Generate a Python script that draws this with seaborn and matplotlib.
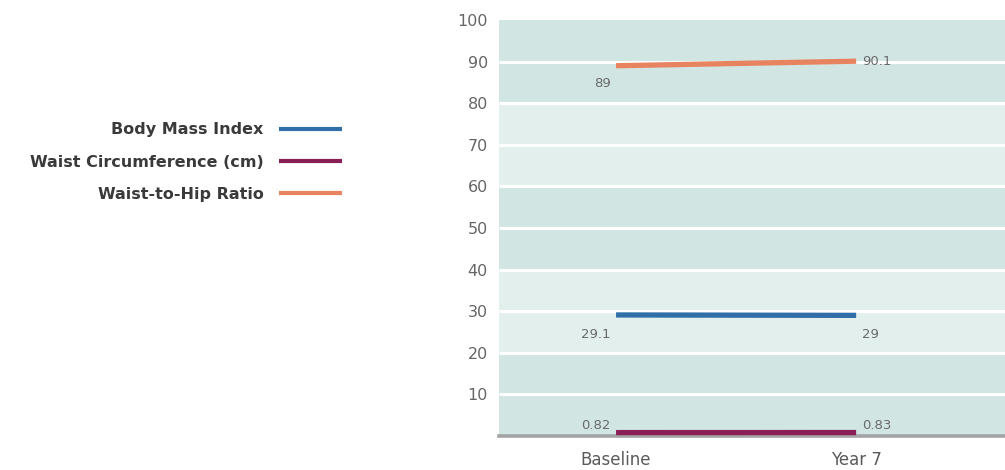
import matplotlib
matplotlib.use("Agg")
import matplotlib.pyplot as plt
import seaborn as sns
import pandas as pd
from matplotlib.ticker import FixedLocator

# --- data -------------------------------------------------------------
timepoints = ["Baseline", "Year 7"]
series_names = ["Body Mass Index", "Waist Circumference (cm)", "Waist-to-Hip Ratio"]
baseline_values = [29.1, 0.82, 89]
year7_values = [29, 0.83, 90.1]
y_ticks = [10, 20, 30, 40, 50, 60, 70, 80, 90, 100]

# --- styling ----------------------------------------------------------
colors = {
    "Body Mass Index": "#2f6ea6",
    "Waist Circumference (cm)": "#8a1f55",
    "Waist-to-Hip Ratio": "#e8835f",
}
# vertical placement of value labels (points) relative to each end point
label_dy = {
    "Body Mass Index": (-14, -14),
    "Waist Circumference (cm)": (5, 5),
    "Waist-to-Hip Ratio": (-13, 0),
}

rows = []
for name, b, y7 in zip(series_names, baseline_values, year7_values):
    rows.append({"series": name, "time": timepoints[0], "value": b})
    rows.append({"series": name, "time": timepoints[1], "value": y7})
df = pd.DataFrame(rows)

sns.set_theme(style="white")
plt.rcParams["font.family"] = ["DejaVu Sans"]

fig = plt.figure(figsize=(10.05, 4.70), dpi=100)
W, H = 1005, 470
ax = fig.add_axes([499 / W, 1 - 436 / H, 1 - 499 / W, (436 - 20) / H])

# alternating background bands and white grid lines
dark, light = "#d1e6e3", "#e2efec"
for lo in range(0, 100, 20):
    ax.axhspan(lo, lo + 20, color=dark if (lo // 20) % 2 == 0 else light, zorder=0, lw=0)
for t in y_ticks[:-1]:
    ax.axhline(t, color="white", lw=2.2, zorder=1)

sns.lineplot(
    data=df, x="time", y="value", hue="series", hue_order=series_names,
    palette=colors, sort=False, linewidth=3.8, ax=ax, legend=True,
    zorder=3, clip_on=False,
)
for line in ax.lines:
    line.set_solid_capstyle("butt")
    line.set_clip_on(False)

# value labels at each end of every line
for name, b, y7 in zip(series_names, baseline_values, year7_values):
    dl, dr = label_dy[name]
    ax.annotate(f"{b:g}", (0, b), xytext=(-4, dl), textcoords="offset points",
                ha="right", va="center", fontsize=9.5, color="#6a6a6a", zorder=4)
    ax.annotate(f"{y7:g}", (1, y7), xytext=(4.5, dr), textcoords="offset points",
                ha="left", va="center", fontsize=9.5, color="#6a6a6a", zorder=4)

ax.set_xlim(-0.4875, 1.62)
ax.set_ylim(0, 100)
ax.set_yticks(y_ticks)
ax.set_xticks([0, 1])
ax.set_xticklabels(timepoints)
ax.xaxis.set_minor_locator(FixedLocator([0.5]))
ax.tick_params(axis="x", which="major", length=0, pad=11, labelsize=12, labelcolor="#5a5a5a")
ax.tick_params(axis="x", which="minor", length=12, width=1, color="#8a8a8a", direction="out")
ax.tick_params(axis="y", length=0, pad=8, labelsize=11.5, labelcolor="#666666")
ax.set_xlabel("")
ax.set_ylabel("")

for side in ("top", "right", "left"):
    ax.spines[side].set_visible(False)
ax.spines["bottom"].set_color("#a3a3a3")
ax.spines["bottom"].set_linewidth(2.6)
ax.spines["bottom"].set_zorder(2)

# legend on the left of the figure, labels to the left of their swatches
handles, labels = ax.get_legend_handles_labels()
ax.get_legend().remove()
for h in handles:
    h.set_linewidth(3)
leg = fig.legend(
    handles, labels, loc="center right", bbox_to_anchor=(342 / W, 1 - 162 / H),
    bbox_transform=fig.transFigure, frameon=False, markerfirst=False,
    prop={"size": 11.5, "weight": "bold"},
    handlelength=3.95, handletextpad=0.95, labelspacing=1.09,
    borderpad=0, borderaxespad=0,
)
for t in leg.get_texts():
    t.set_color("#3a3a3a")

fig.savefig("out.png", dpi=100)
